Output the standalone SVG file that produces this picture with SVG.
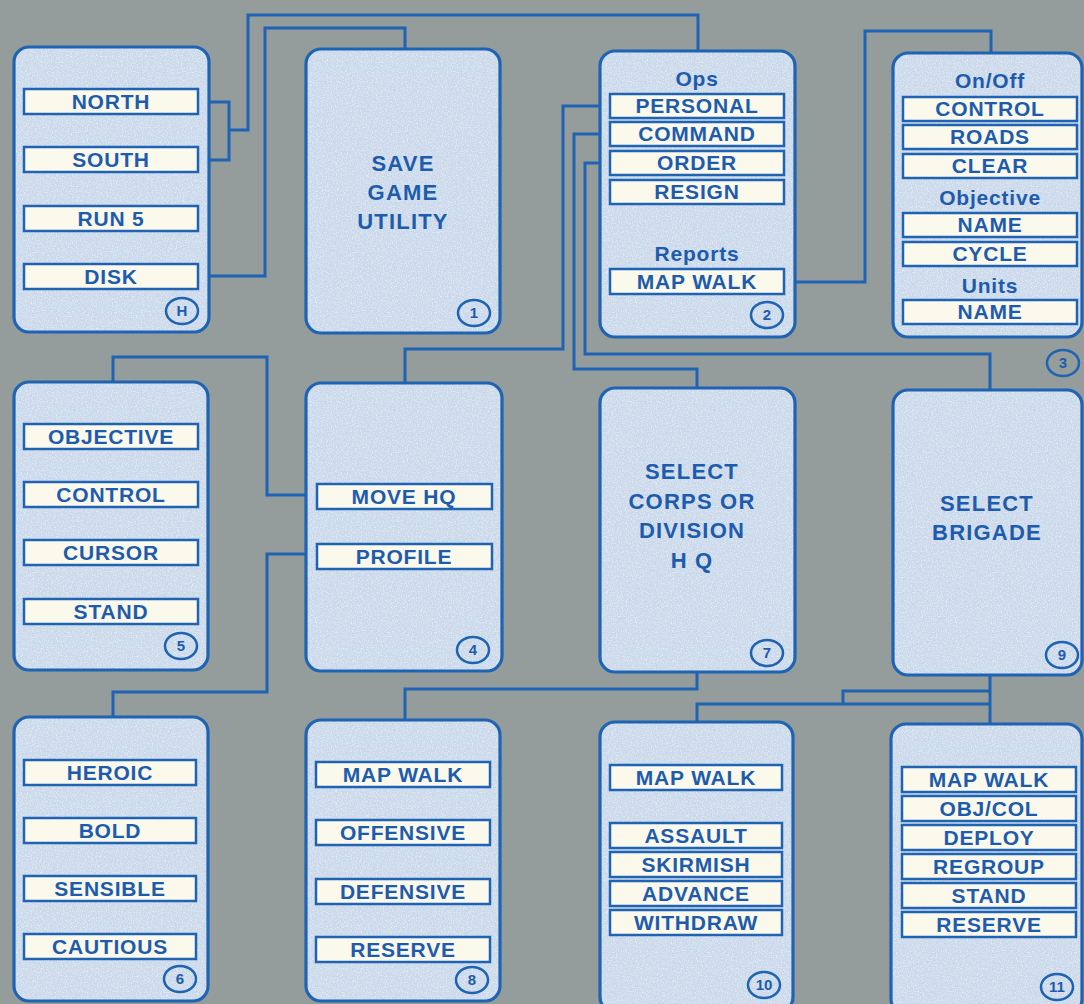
<svg xmlns="http://www.w3.org/2000/svg" width="1084" height="1004" viewBox="0 0 1084 1004">
<defs>
<filter id="tex" x="0" y="0" width="100%" height="100%">
<feTurbulence type="fractalNoise" baseFrequency="0.8" numOctaves="2" seed="4" result="n"/>
<feColorMatrix in="n" type="matrix" values="0 0 0 0 1  0 0 0 0 1  0 0 0 0 1  1.2 0 0 0 -0.5" result="w"/>
<feComposite in="w" in2="SourceGraphic" operator="in" result="wm"/>
<feMerge><feMergeNode in="SourceGraphic"/><feMergeNode in="wm"/></feMerge>
</filter>
<rect id="cH" x="14" y="47" width="195" height="285" rx="15"/>
<rect id="c1" x="306" y="49" width="194" height="284" rx="15"/>
<rect id="c2" x="600" y="51" width="195" height="286" rx="15"/>
<rect id="c3" x="893" y="53" width="189" height="284" rx="15"/>
<rect id="c5" x="14" y="382" width="194" height="288" rx="15"/>
<rect id="c4" x="306" y="383" width="196" height="288" rx="15"/>
<rect id="c7" x="600" y="388" width="195" height="284" rx="15"/>
<rect id="c9" x="893" y="390" width="189" height="285" rx="15"/>
<rect id="c6" x="14" y="717" width="194" height="284" rx="15"/>
<rect id="c8" x="306" y="720" width="194" height="281" rx="15"/>
<rect id="c10" x="600" y="722" width="193" height="290" rx="15"/>
<rect id="c11" x="891" y="724" width="191" height="290" rx="15"/>
</defs>
<style>
.cf{fill:#c9d8ea;stroke:none;filter:url(#tex)}
.cb{fill:none;stroke:#1f63b3;stroke-width:3.2}
.bar{fill:#fbf8ec;stroke:#1f63b3;stroke-width:2.5}
.lbl{font-family:"Liberation Sans",Arial,sans-serif;font-weight:bold;font-size:21px;fill:#1d5cad;text-anchor:middle;letter-spacing:0.8px}
.hdr{font-family:"Liberation Sans",Arial,sans-serif;font-weight:bold;font-size:21px;fill:#1d5cad;text-anchor:middle;letter-spacing:0.8px}
.big{font-family:"Liberation Sans",Arial,sans-serif;font-weight:bold;font-size:22px;fill:#1d5cad;text-anchor:middle;letter-spacing:1.2px}
.num{fill:none;stroke:#1f63b3;stroke-width:2.5}
.numt{font-family:"Liberation Sans",Arial,sans-serif;font-weight:bold;font-size:15px;fill:#1d5cad;text-anchor:middle}
.con{fill:none;stroke:#1f63b3;stroke-width:3}
</style>
<rect width="1084" height="1004" fill="#949d9b"/>
<g id="connectors">
<path class="con" d="M209,102 H229 V160 H209 M229,130 H248 V15 H698 V51"/>
<path class="con" d="M209,276 H265 V28 H405 V49"/>
<path class="con" d="M795,282 H865 V31 H991 V53"/>
<path class="con" d="M600,106 H563 V349 H405 V383"/>
<path class="con" d="M600,134 H574 V369 H697 V388"/>
<path class="con" d="M600,163 H585 V354 H990 V390"/>
<path class="con" d="M113,382 V357 H267 V495 H306"/>
<path class="con" d="M306,554 H267 V692 H113 V717"/>
<path class="con" d="M697,672 V689 H405 V720"/>
<path class="con" d="M990,675 V724 M990,691 H843 V704 M697,722 V704 H990"/>
</g>
<g id="node-H">
<use href="#cH" class="cf"/><use href="#cH" class="cb"/>
<rect class="bar" x="24" y="89" width="174" height="25"/><text class="lbl" x="111" y="109">NORTH</text>
<rect class="bar" x="24" y="147" width="174" height="25"/><text class="lbl" x="111" y="167">SOUTH</text>
<rect class="bar" x="24" y="206" width="174" height="25"/><text class="lbl" x="111" y="226">RUN 5</text>
<rect class="bar" x="24" y="264" width="174" height="25"/><text class="lbl" x="111" y="284">DISK</text>
<ellipse class="num" cx="182" cy="311" rx="16" ry="13"/><text class="numt" x="182" y="316">H</text>
</g>
<g id="node-1">
<use href="#c1" class="cf"/><use href="#c1" class="cb"/>
<text class="big" x="403" y="171">SAVE</text>
<text class="big" x="403" y="200">GAME</text>
<text class="big" x="403" y="229">UTILITY</text>
<ellipse class="num" cx="474" cy="313" rx="16" ry="13"/><text class="numt" x="474" y="318">1</text>
</g>
<g id="node-2">
<use href="#c2" class="cf"/><use href="#c2" class="cb"/>
<text class="hdr" x="697" y="86">Ops</text>
<rect class="bar" x="610" y="94" width="174" height="24"/><text class="lbl" x="697" y="113">PERSONAL</text>
<rect class="bar" x="610" y="122" width="174" height="24"/><text class="lbl" x="697" y="141">COMMAND</text>
<rect class="bar" x="610" y="151" width="174" height="24"/><text class="lbl" x="697" y="170">ORDER</text>
<rect class="bar" x="610" y="180" width="174" height="24"/><text class="lbl" x="697" y="199">RESIGN</text>
<text class="hdr" x="697" y="261">Reports</text>
<rect class="bar" x="610" y="269" width="174" height="25"/><text class="lbl" x="697" y="289">MAP WALK</text>
<ellipse class="num" cx="767" cy="315" rx="16" ry="13"/><text class="numt" x="767" y="320">2</text>
</g>
<g id="node-3">
<use href="#c3" class="cf"/><use href="#c3" class="cb"/>
<text class="hdr" x="990" y="88">On/Off</text>
<rect class="bar" x="903" y="97" width="174" height="24"/><text class="lbl" x="990" y="116">CONTROL</text>
<rect class="bar" x="903" y="125" width="174" height="24"/><text class="lbl" x="990" y="144">ROADS</text>
<rect class="bar" x="903" y="154" width="174" height="24"/><text class="lbl" x="990" y="173">CLEAR</text>
<text class="hdr" x="990" y="205">Objective</text>
<rect class="bar" x="903" y="213" width="174" height="24"/><text class="lbl" x="990" y="232">NAME</text>
<rect class="bar" x="903" y="242" width="174" height="24"/><text class="lbl" x="990" y="261">CYCLE</text>
<text class="hdr" x="990" y="293">Units</text>
<rect class="bar" x="903" y="300" width="174" height="24"/><text class="lbl" x="990" y="319">NAME</text>
<ellipse class="num" cx="1063" cy="363" rx="16" ry="13"/><text class="numt" x="1063" y="368">3</text>
</g>
<g id="node-5">
<use href="#c5" class="cf"/><use href="#c5" class="cb"/>
<rect class="bar" x="24" y="424" width="174" height="25"/><text class="lbl" x="111" y="444">OBJECTIVE</text>
<rect class="bar" x="24" y="482" width="174" height="25"/><text class="lbl" x="111" y="502">CONTROL</text>
<rect class="bar" x="24" y="540" width="174" height="25"/><text class="lbl" x="111" y="560">CURSOR</text>
<rect class="bar" x="24" y="599" width="174" height="25"/><text class="lbl" x="111" y="619">STAND</text>
<ellipse class="num" cx="181" cy="646" rx="16" ry="13"/><text class="numt" x="181" y="651">5</text>
</g>
<g id="node-4">
<use href="#c4" class="cf"/><use href="#c4" class="cb"/>
<rect class="bar" x="317" y="484" width="175" height="25"/><text class="lbl" x="404" y="504">MOVE HQ</text>
<rect class="bar" x="317" y="544" width="175" height="25"/><text class="lbl" x="404" y="564">PROFILE</text>
<ellipse class="num" cx="473" cy="650" rx="16" ry="13"/><text class="numt" x="473" y="655">4</text>
</g>
<g id="node-7">
<use href="#c7" class="cf"/><use href="#c7" class="cb"/>
<text class="big" x="692" y="479">SELECT</text>
<text class="big" x="692" y="509">CORPS OR</text>
<text class="big" x="692" y="538">DIVISION</text>
<text class="big" x="692" y="568">H Q</text>
<ellipse class="num" cx="767" cy="653" rx="16" ry="13"/><text class="numt" x="767" y="658">7</text>
</g>
<g id="node-9">
<use href="#c9" class="cf"/><use href="#c9" class="cb"/>
<text class="big" x="987" y="511">SELECT</text>
<text class="big" x="987" y="540">BRIGADE</text>
<ellipse class="num" cx="1062" cy="655" rx="16" ry="13"/><text class="numt" x="1062" y="660">9</text>
</g>
<g id="node-6">
<use href="#c6" class="cf"/><use href="#c6" class="cb"/>
<rect class="bar" x="24" y="760" width="172" height="25"/><text class="lbl" x="110" y="780">HEROIC</text>
<rect class="bar" x="24" y="818" width="172" height="25"/><text class="lbl" x="110" y="838">BOLD</text>
<rect class="bar" x="24" y="876" width="172" height="25"/><text class="lbl" x="110" y="896">SENSIBLE</text>
<rect class="bar" x="24" y="934" width="172" height="25"/><text class="lbl" x="110" y="954">CAUTIOUS</text>
<ellipse class="num" cx="180" cy="979" rx="16" ry="13"/><text class="numt" x="180" y="984">6</text>
</g>
<g id="node-8">
<use href="#c8" class="cf"/><use href="#c8" class="cb"/>
<rect class="bar" x="316" y="762" width="174" height="25"/><text class="lbl" x="403" y="782">MAP WALK</text>
<rect class="bar" x="316" y="820" width="174" height="25"/><text class="lbl" x="403" y="840">OFFENSIVE</text>
<rect class="bar" x="316" y="879" width="174" height="25"/><text class="lbl" x="403" y="899">DEFENSIVE</text>
<rect class="bar" x="316" y="937" width="174" height="25"/><text class="lbl" x="403" y="957">RESERVE</text>
<ellipse class="num" cx="472" cy="980" rx="16" ry="13"/><text class="numt" x="472" y="985">8</text>
</g>
<g id="node-10">
<use href="#c10" class="cf"/><use href="#c10" class="cb"/>
<rect class="bar" x="610" y="765" width="172" height="25"/><text class="lbl" x="696" y="785">MAP WALK</text>
<rect class="bar" x="610" y="823" width="172" height="25"/><text class="lbl" x="696" y="843">ASSAULT</text>
<rect class="bar" x="610" y="852" width="172" height="25"/><text class="lbl" x="696" y="872">SKIRMISH</text>
<rect class="bar" x="610" y="881" width="172" height="25"/><text class="lbl" x="696" y="901">ADVANCE</text>
<rect class="bar" x="610" y="910" width="172" height="25"/><text class="lbl" x="696" y="930">WITHDRAW</text>
<ellipse class="num" cx="764" cy="985" rx="16" ry="13"/><text class="numt" x="764" y="990">10</text>
</g>
<g id="node-11">
<use href="#c11" class="cf"/><use href="#c11" class="cb"/>
<rect class="bar" x="902" y="767" width="174" height="25"/><text class="lbl" x="989" y="787">MAP WALK</text>
<rect class="bar" x="902" y="796" width="174" height="25"/><text class="lbl" x="989" y="816">OBJ/COL</text>
<rect class="bar" x="902" y="825" width="174" height="25"/><text class="lbl" x="989" y="845">DEPLOY</text>
<rect class="bar" x="902" y="854" width="174" height="25"/><text class="lbl" x="989" y="874">REGROUP</text>
<rect class="bar" x="902" y="883" width="174" height="25"/><text class="lbl" x="989" y="903">STAND</text>
<rect class="bar" x="902" y="912" width="174" height="25"/><text class="lbl" x="989" y="932">RESERVE</text>
<ellipse class="num" cx="1057" cy="987" rx="16" ry="13"/><text class="numt" x="1057" y="992">11</text>
</g>
</svg>
